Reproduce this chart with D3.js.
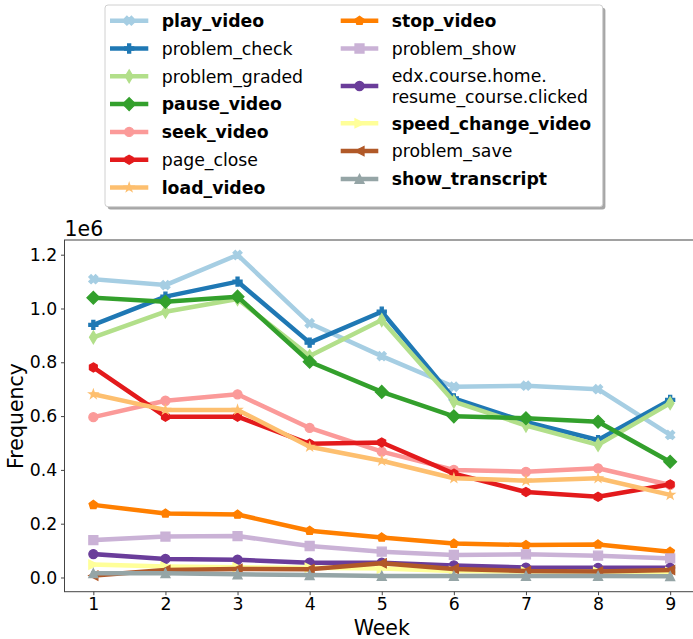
<!DOCTYPE html>
<html><head><meta charset="utf-8">
<script src="https://cdn.jsdelivr.net/npm/d3@7"></script>
<style>
body{margin:0;background:#fff;}
text{font-family:"DejaVu Sans",sans-serif;fill:#000;}
</style></head>
<body><svg id="c" width="693" height="639"></svg>
<script>
const weeks = [1,2,3,4,5,6,7,8,9];
const seriesNames = ["play_video","problem_check","problem_graded","pause_video","seek_video","page_close","load_video","stop_video","problem_show","edx.course.home.resume_course.clicked","speed_change_video","problem_save","show_transcript"];
const play_video       = [1.109,1.087,1.199,0.945,0.823,0.709,0.713,0.700,0.530];
const problem_check    = [0.939,1.044,1.100,0.873,0.988,0.666,0.578,0.511,0.660];
const problem_graded   = [0.893,0.988,1.035,0.823,0.957,0.654,0.565,0.493,0.648];
const pause_video      = [1.040,1.025,1.044,0.802,0.690,0.599,0.592,0.579,0.430];
const seek_video       = [0.596,0.657,0.681,0.556,0.468,0.400,0.393,0.406,0.344];
const page_close       = [0.781,0.598,0.598,0.497,0.502,0.386,0.318,0.300,0.346];
const load_video       = [0.681,0.623,0.623,0.486,0.434,0.369,0.360,0.369,0.307];
const stop_video       = [0.270,0.238,0.234,0.174,0.149,0.126,0.121,0.123,0.096];
const problem_show     = [0.139,0.152,0.154,0.117,0.096,0.084,0.086,0.081,0.071];
const resume_course    = [0.087,0.069,0.066,0.055,0.055,0.045,0.037,0.036,0.036];
const speed_change     = [0.048,0.041,0.038,0.036,0.033,0.024,0.022,0.021,0.020];
const problem_save     = [0.007,0.028,0.032,0.031,0.053,0.032,0.024,0.022,0.028];
const show_transcript  = [0.016,0.016,0.012,0.009,0.006,0.006,0.006,0.006,0.005];
const seriesValues = [play_video,problem_check,problem_graded,pause_video,seek_video,page_close,load_video,stop_video,problem_show,resume_course,speed_change,problem_save,show_transcript];
const colors = ["#a6cee3","#1f78b4","#b2df8a","#33a02c","#fb9a99","#e31a1c","#fdbf6f","#ff7f00","#cab2d6","#6a3d9a","#ffff99","#b15928","#95a5a6"];
const markers = ["X","P","d","D","o","h","*","p","s","o",">","<","^"];
const boldNames = ["play_video","pause_video","seek_video","load_video","stop_video","speed_change_video","show_transcript"];
const yTicks = [0.0,0.2,0.4,0.6,0.8,1.0,1.2];
const xTicks = [1,2,3,4,5,6,7,8,9];

const svg = d3.select("#c");
const L=64.5, R=699, T=240, B=591.7;
const x = d3.scaleLinear().domain([0.6,9.4]).range([L,R]);
const y = d3.scaleLinear().domain([-0.0528,1.2546]).range([B,T]);

function markerPath(type, ms){
  const h = ms/2;
  let pts;
  const poly = (n, r, rot) => d3.range(n).map(i=>{const a=rot+2*Math.PI*i/n;return [r*Math.sin(a), -r*Math.cos(a)];});
  switch(type){
    case "o": return d3.symbol(d3.symbolCircle, Math.PI*h*h)();
    case "s": pts=[[-h,-h],[h,-h],[h,h],[-h,h]]; break;
    case "D": {const d=h*1.414; pts=[[0,-d],[d,0],[0,d],[-d,0]]; break;}
    case "d": {const d=h*1.414; pts=[[0,-d],[d*0.6,0],[0,d],[-d*0.6,0]]; break;}
    case "^": pts=[[0,-h],[h,h],[-h,h]]; break;
    case ">": pts=[[h,0],[-h,h],[-h,-h]]; break;
    case "<": pts=[[-h,0],[h,-h],[h,h]]; break;
    case "p": pts=poly(5,h,0); break;
    case "h": pts=poly(6,h,0); break;
    case "*": {pts=[]; for(let i=0;i<10;i++){const r=i%2?h*0.381966:h; const a=Math.PI*i/5; pts.push([r*Math.sin(a),-r*Math.cos(a)]);} break;}
    case "P": {const u=ms/6; pts=[[-1,-3],[1,-3],[1,-1],[3,-1],[3,1],[1,1],[1,3],[-1,3],[-1,1],[-3,1],[-3,-1],[-1,-1]].map(p=>[p[0]*u,p[1]*u]); break;}
    case "X": {const u=ms/4; pts=[[-1,-2],[0,-1],[1,-2],[2,-1],[1,0],[2,1],[1,2],[0,1],[-1,2],[-2,1],[-1,0],[-2,-1]].map(p=>[p[0]*u,p[1]*u]); break;}
  }
  return "M"+pts.map(p=>p[0].toFixed(2)+","+p[1].toFixed(2)).join("L")+"Z";
}
const MS = 9;

svg.append("defs").append("clipPath").attr("id","clip").append("rect").attr("x",L).attr("y",T).attr("width",R-L).attr("height",B-T);

const plot = svg.append("g").attr("clip-path","url(#clip)");
const line = d3.line().x((d,i)=>x(weeks[i])).y(d=>y(d));
seriesValues.forEach((vals,k)=>{
  const g = plot.append("g");
  g.append("path").attr("d",line(vals)).attr("fill","none").attr("stroke",colors[k]).attr("stroke-width",4.5).attr("stroke-linejoin","round").attr("stroke-linecap","square");
  g.selectAll("path.m").data(vals).enter().append("path").attr("class","m")
   .attr("d",markerPath(markers[k],MS))
   .attr("transform",(d,i)=>`translate(${x(weeks[i])},${y(d)})`)
   .attr("fill",colors[k]).attr("stroke",colors[k]).attr("stroke-width",1.3).attr("stroke-linejoin","miter");
});

const ax = svg.append("g");
const xa = ax.append("g").attr("transform",`translate(0,${B})`).call(d3.axisBottom(x).tickValues(xTicks).tickFormat(d3.format("d")).tickSize(3.5).tickPadding(2.5));
const ya = ax.append("g").attr("transform",`translate(${L},0)`).call(d3.axisLeft(y).tickValues(yTicks).tickFormat(d3.format(".1f")).tickSize(3.5).tickPadding(3.7));
[xa,ya].forEach(a=>{
  a.select(".domain").remove();
  a.selectAll(".tick line").attr("stroke","#444").attr("stroke-width",1);
  a.selectAll(".tick text").style("font-family","DejaVu Sans").style("font-size","17.3px").attr("fill","#000");
});
ax.append("rect").attr("x",L).attr("y",T).attr("width",R-L).attr("height",B-T).attr("fill","none").attr("stroke","#444").attr("stroke-width",1);

svg.append("text").attr("x",(L+R)/2).attr("y",634.5).attr("text-anchor","middle").style("font-size","20.5px").text("Week");
svg.append("text").attr("transform","translate(23,416) rotate(-90)").attr("text-anchor","middle").style("font-size","20.5px").text("Frequency");
svg.append("text").attr("x",L).attr("y",236).style("font-size","20.5px").text("1e6");

const lg = svg.append("g");
const bx=105, by=5, bw=497.7, bh=201.7;
lg.append("rect").attr("x",bx+2.7).attr("y",by+2.7).attr("width",bw).attr("height",bh).attr("rx",3).attr("fill","#4d4d4d").attr("opacity",0.5);
lg.append("rect").attr("x",bx).attr("y",by).attr("width",bw).attr("height",bh).attr("rx",3).attr("fill","#fff").attr("stroke","#d0d0d0").attr("stroke-width",1);
const rowY1 = [20.7,48.5,76.3,104.1,131.9,159.7,187.5];
const rowY2 = [20.7,48.5,86.0,123.3,151.1,178.9];
const labelLines = seriesNames.map(n=> n.startsWith("edx.") ? ["edx.course.home.","resume_course.clicked"] : [n]);
seriesNames.forEach((n,k)=>{
  const col = k<7?0:1;
  const cy = col===0 ? rowY1[k] : rowY2[k-7];
  const hx0 = col===0?110:340.7, hx1 = col===0?148.3:378.3, tx = col===0?161.7:391.7;
  lg.append("line").attr("x1",hx0).attr("x2",hx1).attr("y1",cy).attr("y2",cy).attr("stroke",colors[k]).attr("stroke-width",4.5);
  lg.append("path").attr("d",markerPath(markers[k],MS)).attr("transform",`translate(${(hx0+hx1)/2},${cy})`).attr("fill",colors[k]).attr("stroke",colors[k]).attr("stroke-width",1.3);
  const lines = labelLines[k];
  const t = lg.append("text").attr("x",tx).style("font-size","17.3px").style("font-weight",boldNames.includes(n)?"bold":"normal");
  lines.forEach((s,j)=>{
    const ly = cy + (j - (lines.length-1)/2)*20.7 + 6.2;
    t.append("tspan").attr("x",tx).attr("y",ly).text(s);
  });
});
</script></body></html>
